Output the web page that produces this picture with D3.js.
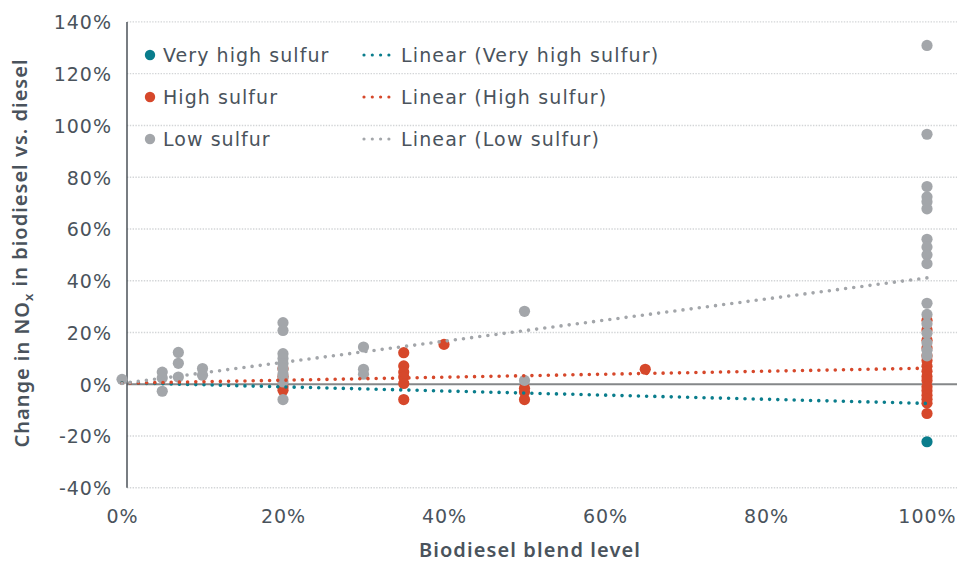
<!DOCTYPE html>
<html>
<head>
<meta charset="utf-8">
<script src="https://cdn.jsdelivr.net/npm/d3@7"></script>
<style>
  html, body { margin: 0; padding: 0; background: #fff; }
  svg { display: block; font-family: "DejaVu Sans", sans-serif; }
</style>
</head>
<body>
<svg id="chart" width="969" height="562"></svg>
<script>
// Axis ticks
const xTicks = [0, 0.2, 0.4, 0.6, 0.8, 1.0];
const yTicks = [-0.4, -0.2, 0, 0.2, 0.4, 0.6, 0.8, 1.0, 1.2, 1.4];

// Series names
const seriesNames = ["Very high sulfur", "High sulfur", "Low sulfur"];
const trendNames = ["Linear (Very high sulfur)", "Linear (High sulfur)", "Linear (Low sulfur)"];

// Very high sulfur fuel
const veryHighX = [1.0];
const veryHighY = [-0.222];

// High sulfur fuel
const highX = [0.2, 0.2, 0.2, 0.2,
  0.35, 0.35, 0.35, 0.35, 0.35, 0.35,
  0.4,
  0.5, 0.5, 0.5,
  0.65,
  1.0, 1.0, 1.0, 1.0, 1.0, 1.0, 1.0, 1.0, 1.0, 1.0, 1.0, 1.0, 1.0, 1.0, 1.0, 1.0];
const highY = [0.06, 0.03, -0.01, -0.023,
  0.122, 0.071, 0.047, 0.028, 0.003, -0.059,
  0.154,
  -0.015, -0.03, -0.059,
  0.058,
  0.247, 0.21, 0.17, 0.14, 0.11, 0.092, 0.07, 0.05, 0.03, 0.015, -0.01, -0.025, -0.042, -0.058, -0.073, -0.113];

// Low sulfur fuel
const lowX = [0,
  0.05, 0.05, 0.05,
  0.07, 0.07, 0.07,
  0.1, 0.1,
  0.2, 0.2, 0.2, 0.2, 0.2, 0.2, 0.2, 0.2, 0.2, 0.2,
  0.3, 0.3, 0.3,
  0.5, 0.5,
  1.0, 1.0, 1.0, 1.0, 1.0, 1.0, 1.0, 1.0, 1.0, 1.0, 1.0, 1.0, 1.0, 1.0, 1.0, 1.0, 1.0];
const lowY = [0.019,
  0.047, 0.024, -0.027,
  0.123, 0.081, 0.028,
  0.061, 0.035,
  0.238, 0.208, 0.118, 0.10, 0.08, 0.06, 0.04, 0.025, 0.009, -0.059,
  0.144, 0.058, 0.039,
  0.282, 0.015,
  1.309, 0.966, 0.764, 0.724, 0.705, 0.678, 0.56, 0.53, 0.50, 0.466, 0.313, 0.27, 0.234, 0.197, 0.16, 0.131, 0.11];

// Linear trend values at blend 0% and 100%
const trendX = [0, 1.0];
const veryHighTrend = [0.006, -0.074];
const highTrend = [0.004, 0.062];
const lowTrend = [0.003, 0.411];

const colors = ["#0a7d8c", "#d6482b", "#a3a6aa"];
const textColor = "#4a535c";
const titleFont = "'Noto Sans', sans-serif";

const svg = d3.select("#chart");

const x = d3.scaleLinear().domain([0, 1]).range([122, 927]);
const y = d3.scaleLinear().domain([-0.4, 1.4]).range([487.8, 21.9]);
const plotLeft = 127, plotRight = 957;

// Horizontal dotted gridlines
svg.append("g")
  .selectAll("line")
  .data(yTicks.filter(d => d !== 0))
  .join("line")
  .attr("x1", plotLeft).attr("x2", plotRight)
  .attr("y1", d => y(d)).attr("y2", d => y(d))
  .attr("stroke", "#d3d5d7")
  .attr("stroke-width", 1.4)
  .attr("stroke-dasharray", "1.4 1.4");

// Zero baseline
svg.append("line")
  .attr("x1", plotLeft).attr("x2", plotRight)
  .attr("y1", y(0)).attr("y2", y(0))
  .attr("stroke", "#858789")
  .attr("stroke-width", 2);

// Vertical axis line
svg.append("line")
  .attr("x1", plotLeft).attr("x2", plotLeft)
  .attr("y1", y(1.4)).attr("y2", y(-0.4))
  .attr("stroke", "#4b5259")
  .attr("stroke-width", 1.5);

// Y tick labels
const yAxis = d3.axisLeft(y)
  .tickValues(yTicks)
  .tickSize(0)
  .tickPadding(0)
  .tickFormat(d => Math.round(d * 100) + "%");
const gy = svg.append("g").attr("transform", "translate(112,0)").call(yAxis);
gy.select(".domain").remove();
gy.selectAll("text")
  .attr("fill", textColor)
  .style("font-family", "'DejaVu Sans', sans-serif")
  .style("font-size", "19px")
  .style("letter-spacing", "1px")
  .attr("dy", "0.36em");

// X tick labels
const xAxis = d3.axisBottom(x)
  .tickValues(xTicks)
  .tickSize(0)
  .tickPadding(0)
  .tickFormat(d => Math.round(d * 100) + "%");
const gx = svg.append("g").attr("transform", "translate(0,509)").call(xAxis);
gx.select(".domain").remove();
gx.selectAll("text")
  .attr("fill", textColor)
  .style("font-family", "'DejaVu Sans', sans-serif")
  .style("font-size", "19px")
  .style("letter-spacing", "1px")
  .attr("dy", "0.71em");

// Scatter points: very high, high, low (low drawn on top)
const pointSets = [
  { xs: veryHighX, ys: veryHighY, c: colors[0] },
  { xs: highX, ys: highY, c: colors[1] },
  { xs: lowX, ys: lowY, c: colors[2] }
];
pointSets.forEach(s => {
  svg.append("g")
    .selectAll("circle")
    .data(s.xs.map((v, i) => [v, s.ys[i]]))
    .join("circle")
    .attr("cx", d => x(d[0]))
    .attr("cy", d => y(d[1]))
    .attr("r", 5.6)
    .attr("fill", s.c);
});

// Dotted linear trend lines
const trends = [veryHighTrend, highTrend, lowTrend];
const line = d3.line().x(d => x(d[0])).y(d => y(d[1]));
trends.forEach((t, i) => {
  svg.append("path")
    .attr("d", line(trendX.map((v, j) => [v, t[j]])))
    .attr("fill", "none")
    .attr("stroke", colors[i])
    .attr("stroke-width", 3.6)
    .attr("stroke-linecap", "round")
    .attr("stroke-dasharray", "0 8.2");
});

// Legend
const legendRows = [55, 97, 139];
const leg = svg.append("g");
seriesNames.forEach((name, i) => {
  const ly = legendRows[i];
  leg.append("circle").attr("cx", 150).attr("cy", ly).attr("r", 5.2).attr("fill", colors[i]);
  leg.append("text").attr("x", 163).attr("y", ly).attr("dy", "0.36em")
    .attr("fill", textColor).style("font-size", "19px")
    .style("letter-spacing", "1.05px").text(name);
  leg.append("line")
    .attr("x1", 364).attr("x2", 389).attr("y1", ly).attr("y2", ly)
    .attr("stroke", colors[i]).attr("stroke-width", 3.2)
    .attr("stroke-linecap", "round").attr("stroke-dasharray", "0 8.3");
  leg.append("text").attr("x", 401).attr("y", ly).attr("dy", "0.36em")
    .attr("fill", textColor).style("font-size", "19px")
    .style("letter-spacing", "1.15px").text(trendNames[i]);
});

// Axis titles
svg.append("text")
  .attr("x", 530).attr("y", 557)
  .attr("text-anchor", "middle")
  .attr("fill", textColor)
  .style("font-family", titleFont)
  .style("font-size", "20px")
  .style("font-weight", 600)
  .style("letter-spacing", "1.1px")
  .text("Biodiesel blend level");

const yTitle = svg.append("text")
  .attr("transform", "translate(29,253) rotate(-90)")
  .attr("text-anchor", "middle")
  .attr("fill", textColor)
  .style("font-family", titleFont)
  .style("font-size", "20px")
  .style("font-weight", 600)
  .style("letter-spacing", "1px");
yTitle.append("tspan").text("Change in NO");
yTitle.append("tspan").attr("dy", "0.3em").style("font-size", "13px").text("x");
yTitle.append("tspan").attr("dy", "-0.3em").text(" in biodiesel vs. diesel");
</script>
</body>
</html>
